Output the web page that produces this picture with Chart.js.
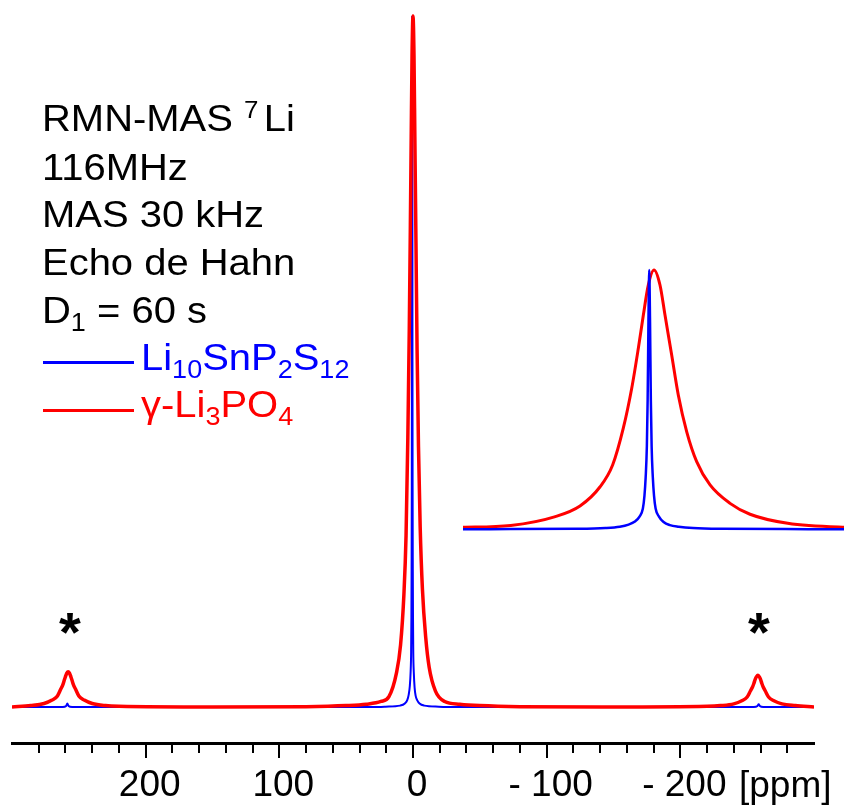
<!DOCTYPE html>
<html><head><meta charset="utf-8">
<script src="https://cdn.jsdelivr.net/npm/chart.js@4/dist/chart.umd.min.js"></script>
<style>
html,body{margin:0;padding:0;background:#fff;}
#wrap{position:relative;width:844px;height:807px;overflow:hidden;font-family:"Liberation Sans",Arial,sans-serif;}
#main{position:absolute;left:0;top:0;}
#inset{position:absolute;left:463px;top:250px;}
.t{position:absolute;left:42px;font-size:37px;line-height:37px;white-space:nowrap;transform:scaleX(1.08);transform-origin:0 0;color:#000;}
.sub{font-size:25px;position:relative;top:8px;line-height:0;}
.sup{font-size:24px;position:relative;top:-13px;line-height:0;margin-right:5px;}
.leg{position:absolute;left:43px;width:91px;height:2.5px;}
.ast{position:absolute;font-size:56px;line-height:56px;width:40px;text-align:center;color:#000;font-weight:bold;}
.ppm{position:absolute;left:739px;top:766px;font-size:37px;line-height:37px;color:#000;white-space:nowrap;}
</style></head>
<body>
<div id="wrap">
<canvas id="main" width="844" height="807"></canvas>
<canvas id="inset" width="381" height="290"></canvas>
<div class="t" style="top:100px">RMN-MAS <span class="sup">7</span>Li</div>
<div class="t" style="top:149px">116MHz</div>
<div class="t" style="top:196px">MAS 30 kHz</div>
<div class="t" style="top:244px">Echo de Hahn</div>
<div class="t" style="top:292px">D<span class="sub">1</span> = 60 s</div>
<div class="leg" style="top:361px;background:#0000ff"></div>
<div class="t" style="top:339px;left:141px;color:#0000ff">Li<span class="sub">10</span>SnP<span class="sub">2</span>S<span class="sub">12</span></div>
<div class="leg" style="top:409px;background:#ff0000"></div>
<div class="t" style="top:386px;left:141px;color:#ff0000">γ-Li<span class="sub">3</span>PO<span class="sub">4</span></div>
<div class="ast" style="left:50px;top:604px">*</div>
<div class="ast" style="left:739px;top:604px">*</div>
<div class="ppm">[ppm]</div>
</div>
<script>
// ---- data (chemical shift in ppm, normalised intensity) ----
const redPpm = [300, 286, 276, 270, 266, 263.5, 262, 261, 260, 259, 258, 257, 256, 255, 254, 252.5, 250, 246, 240, 230, 220, 150, 80, 50, 35, 24, 18, 12.4, 9.3, 6.8, 5.2, 3.86, 2.8, 1.97, 1.34, 0.72, 0, -0.75, -1.38, -2.22, -3.05, -4.11, -5.36, -7.04, -9.55, -12.06, -16.8, -23.7, -35, -50, -80, -150, -220, -230, -240, -246, -250, -252.5, -254, -255, -256, -257, -258, -259, -260, -261, -262, -263.5, -266, -270, -276, -286, -300];
const redInt = [0, 0.2, 0.5, 1.0, 1.6, 2.6, 3.2, 3.8, 4.4, 4.9, 5.1, 4.9, 4.4, 3.8, 3.2, 2.6, 1.6, 1.0, 0.5, 0.2, 0.1, 0, 0.05, 0.2, 0.4, 0.8, 1.5, 4.9, 9.0, 16.3, 24.8, 39, 54.4, 69.8, 82.6, 94.2, 100, 94.2, 82.6, 67.2, 51.8, 37.6, 26.1, 17.1, 10, 5.8, 2.3, 0.8, 0.4, 0.2, 0.05, 0, 0.1, 0.2, 0.45, 0.9, 1.45, 2.35, 2.9, 3.4, 4.0, 4.4, 4.6, 4.4, 4.0, 3.4, 2.9, 2.35, 1.45, 0.9, 0.45, 0.2, 0];
const bluePpm = [300, 262, 259.5, 258.6, 257.7, 255, 30, 20.6, 9.6, 6.1, 4.3, 3.2, 2.4, 1.8, 1.4, 1.2, 1.05, 0.9, 0.8, 0.7, 0.6, 0.5, 0.4, 0.3, 0.15, 0, -0.2, -0.6, -1.2, -2.0, -3.1, -4.9, -8.4, -19.4, -30, -255, -257.7, -258.6, -259.5, -262, -300];
const blueInt = [0, 0, 0.15, 0.5, 0.15, 0, 0, 0.05, 0.2, 0.5, 1.0, 1.8, 3, 5, 8, 13, 20, 32, 50, 80, 100, 80, 50, 32, 20, 13, 8, 5, 2.8, 1.6, 1.0, 0.5, 0.2, 0.05, 0, 0, 0.15, 0.4, 0.15, 0, 0];
const majorTicks = [200, 100, 0, -100, -200];
const tickLabels = ['200', '100', '0', '- 100', '- 200'];

const toXY = (xs, ys) => xs.map((x, i) => ({x: x, y: ys[i]}));

const tickPlugin = {
  id: 'ppmTicks',
  afterDraw(chart) {
    const s = chart.scales.x, ctx = chart.ctx, y0 = chart.chartArea.bottom;
    ctx.save(); ctx.strokeStyle = '#000'; ctx.lineWidth = 2;
    s.ticks.forEach(t => {
      if (Math.abs(t.value) >= 300) return;
      const px = Math.round(s.getPixelForValue(t.value));
      const len = (t.value % 100 === 0) ? 15 : 10;
      ctx.beginPath(); ctx.moveTo(px, y0); ctx.lineTo(px, y0 + len); ctx.stroke();
    });
    ctx.restore();
  }
};

const common = {
  responsive: false, animation: false, devicePixelRatio: 1, events: [],
  plugins: {legend: {display: false}, tooltip: {enabled: false}},
  elements: {point: {radius: 0}, line: {cubicInterpolationMode: 'monotone'}}
};

new Chart(document.getElementById('main'), {
  type: 'line',
  data: {datasets: [
    {data: toXY(redPpm, redInt), borderColor: '#ff0000', borderWidth: 3.5, fill: false},
    {data: toXY(bluePpm, blueInt), borderColor: '#0000ff', borderWidth: 2, fill: false}
  ]},
  options: Object.assign({}, common, {
    layout: {padding: {left: 12, right: 30, top: 0, bottom: 0}},
    scales: {
      x: {type: 'linear', min: -300, max: 300, reverse: true,
        grid: {display: true, drawOnChartArea: false, drawTicks: false},
        border: {display: true, color: '#000', width: 3},
        afterFit: (scale) => { scale.height = 64; scale.paddingLeft = 0; scale.paddingRight = 0; },
        ticks: {stepSize: 20, autoSkip: false, maxRotation: 0, padding: 21, labelOffset: 4, color: '#000',
          font: {family: 'Liberation Sans', size: 37},
          callback: (v) => { const i = majorTicks.indexOf(v); return i >= 0 ? tickLabels[i] : ''; }}
      },
      y: {type: 'linear', display: false, min: -5.21, max: 102.3}
    }
  }),
  plugins: [tickPlugin]
});

new Chart(document.getElementById('inset'), {
  type: 'line',
  data: {datasets: [
    {data: toXY(bluePpm, blueInt), borderColor: '#0000ff', borderWidth: 2.5, fill: false},
    {data: toXY(redPpm, redInt), borderColor: '#ff0000', borderWidth: 3, fill: false}
  ]},
  options: Object.assign({}, common, {
    layout: {padding: 0},
    scales: {
      x: {type: 'linear', display: false, min: -23.87, max: 24, reverse: true},
      y: {type: 'linear', display: false, min: -4.13, max: 107.7}
    }
  })
});
</script>
</body></html>
